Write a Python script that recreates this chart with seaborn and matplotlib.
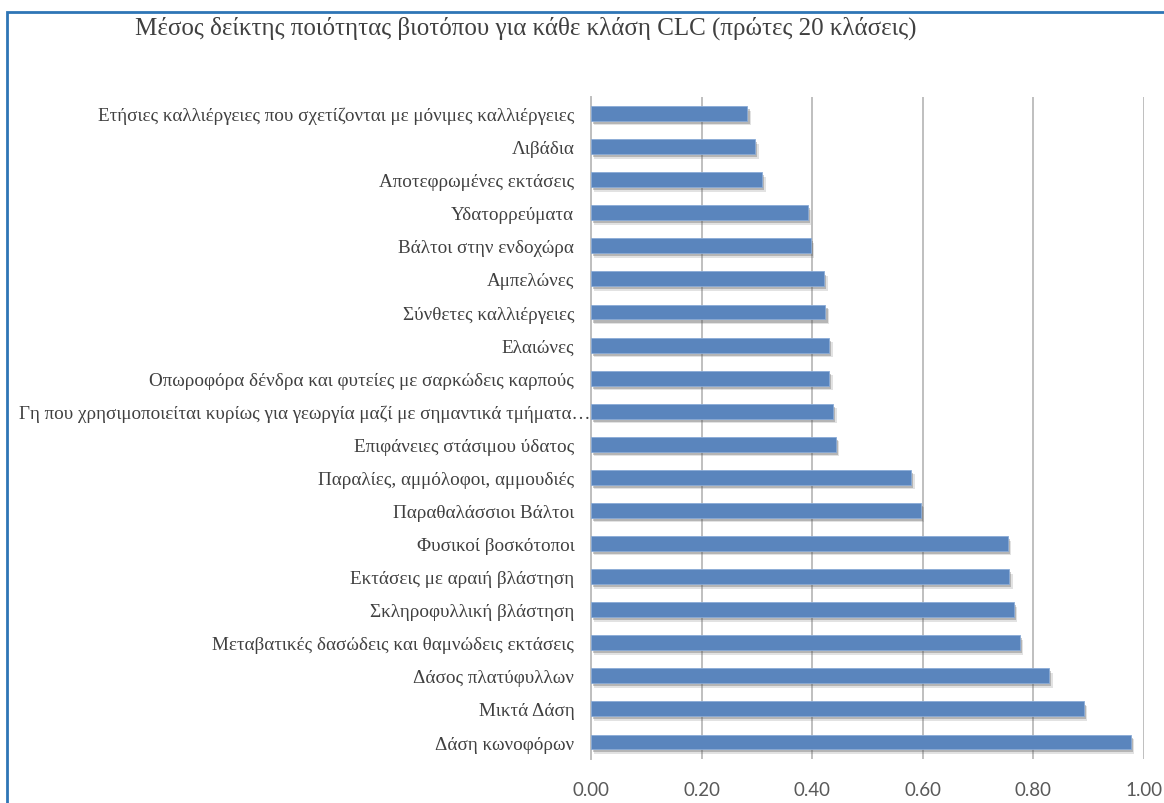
import matplotlib
matplotlib.use("Agg")
import matplotlib.pyplot as plt
import matplotlib.patheffects as pe
from matplotlib.patches import Rectangle
from matplotlib.transforms import ScaledTranslation
import seaborn as sns
import pandas as pd

# data (top to bottom)
classes = [
    "Ετήσιες καλλιέργειες που σχετίζονται με μόνιμες καλλιέργειες",
    "Λιβάδια",
    "Αποτεφρωμένες εκτάσεις",
    "Υδατορρεύματα",
    "Βάλτοι στην ενδοχώρα",
    "Αμπελώνες",
    "Σύνθετες καλλιέργειες",
    "Ελαιώνες",
    "Οπωροφόρα δένδρα και φυτείες με σαρκώδεις καρπούς",
    "Γη που χρησιμοποιείται κυρίως για γεωργία μαζί με σημαντικά τμήματα…",
    "Επιφάνειες στάσιμου ύδατος",
    "Παραλίες, αμμόλοφοι, αμμουδιές",
    "Παραθαλάσσιοι Βάλτοι",
    "Φυσικοί βοσκότοποι",
    "Εκτάσεις με αραιή βλάστηση",
    "Σκληροφυλλική βλάστηση",
    "Μεταβατικές δασώδεις και θαμνώδεις εκτάσεις",
    "Δάσος πλατύφυλλων",
    "Μικτά Δάση",
    "Δάση κωνοφόρων",
]
mean_index = [0.283, 0.297, 0.310, 0.392, 0.397, 0.422, 0.424, 0.431, 0.431, 0.438,
              0.443, 0.579, 0.596, 0.754, 0.756, 0.765, 0.775, 0.829, 0.891, 0.976]
xticks = [0.0, 0.2, 0.4, 0.6, 0.8, 1.0]

df = pd.DataFrame({"class": classes, "value": mean_index})

sns.set_style("white")
serif = ["Liberation Serif", "DejaVu Serif"]

fig = plt.figure(figsize=(11.64, 8.04), dpi=100)
ax = fig.add_axes([0.5077, 0.0553, 0.9828 - 0.5077, 0.8781 - 0.0553])

sns.barplot(data=df, y="class", x="value", orient="h", color="#5A85BD",
            width=0.45, saturation=1, edgecolor="#8AABD6", linewidth=0.6, ax=ax, zorder=3)

# soft shadow under bars like the office chart
for bar in ax.patches:
    bar.set_path_effects([
        pe.SimplePatchShadow(offset=(2.5, -3.2), shadow_rgbFace="#606060", alpha=0.18),
        pe.SimplePatchShadow(offset=(1.5, -2.2), shadow_rgbFace="#505050", alpha=0.3),
        pe.Normal(),
    ])

ax.set_xlim(0, 1)
ax.set_xticks(xticks)
ax.set_xticklabels([f"{t:.2f}" for t in xticks], family="Lato", fontsize=13.5, color="#595959")
ax.xaxis.grid(True, color="#BFBFBF", linewidth=1.4, zorder=0)
ax.set_axisbelow(True)
ax.set_xlabel("")
ax.set_ylabel("")
for s in ["top", "right", "bottom"]:
    ax.spines[s].set_visible(False)
ax.spines["left"].set_color("#BFBFBF")
ax.spines["left"].set_linewidth(1.4)
ax.tick_params(axis="x", length=0, pad=16)
ax.tick_params(axis="y", length=0, pad=12)
for lbl in ax.get_yticklabels():
    lbl.set_family(serif)
    lbl.set_fontsize(13.8)
    lbl.set_color("#404040")
    if lbl.get_text().endswith("…"):
        # the truncated label runs up to the axis line in the reference
        lbl.set_transform(lbl.get_transform() + ScaledTranslation(0.16, 0, fig.dpi_scale_trans))

fig.text(135 / 1164, 1 - 28 / 804, "Μέσος δείκτης ποιότητας βιοτόπου για κάθε κλάση CLC (πρώτες 20 κλάσεις)",
         family=serif, fontsize=18, color="#404040", ha="left", va="center")

# blue frame of the chart area (cut at right and bottom)
fig.patches.append(Rectangle((7 / 1164, -0.1), 1.2, 1 - 13 / 804 + 0.1, transform=fig.transFigure,
                             fill=False, edgecolor="#2E75B6", linewidth=2, clip_on=False))

fig.savefig("out.png", dpi=100)
